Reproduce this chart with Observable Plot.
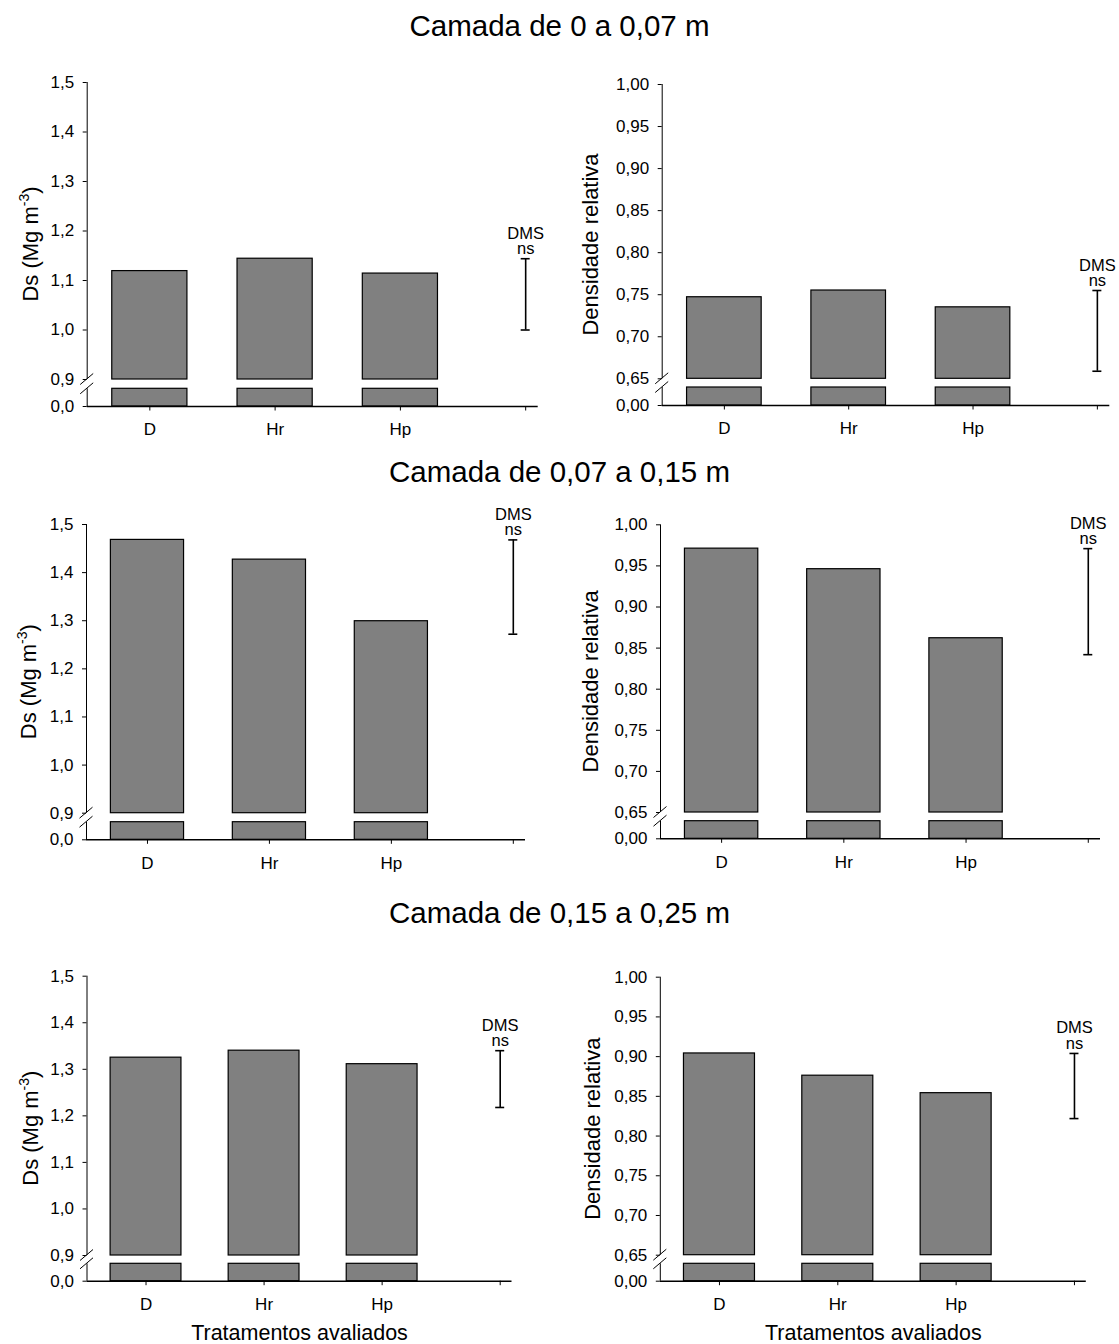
<!DOCTYPE html>
<html>
<head>
<meta charset="utf-8">
<script src="https://cdn.jsdelivr.net/npm/d3@7"></script>
<script src="https://cdn.jsdelivr.net/npm/@observablehq/plot@0.6"></script>
<style>
  html, body { margin: 0; padding: 0; background: #fff; }
  #fig { position: relative; width: 1119px; height: 1344px; overflow: hidden;
         font-family: "Liberation Sans", Arial, Helvetica, sans-serif; background: #fff; }
  #fig svg { position: absolute; }
  .title { position: absolute; left: 0; width: 1119px; text-align: center;
           font-size: 29.5px; line-height: 29.5px; color: #000; pointer-events: none; }
</style>
</head>
<body>
<div id="fig"></div>
<script>
// ---------------- data ----------------
const categories = ["D", "Hr", "Hp"];
const layerTitles = ["Camada de 0 a 0,07 m", "Camada de 0,07 a 0,15 m", "Camada de 0,15 a 0,25 m"];

// Ds (Mg m-3) per layer
const dsLayer1 = [1.119, 1.144, 1.114];
const dsLayer2 = [1.468, 1.427, 1.299];
const dsLayer3 = [1.325, 1.340, 1.311];
// Densidade relativa per layer
const drLayer1 = [0.747, 0.755, 0.735];
const drLayer2 = [0.971, 0.946, 0.862];
const drLayer3 = [0.904, 0.876, 0.854];
// DMS (least significant difference) per layer
const dmsDs = [0.144, 0.196, 0.122];
const dmsDr = [0.096, 0.129, 0.082];

const dsTicks = [0, 0.9, 1.0, 1.1, 1.2, 1.3, 1.4, 1.5];
const drTicks = [0, 0.65, 0.70, 0.75, 0.80, 0.85, 0.90, 0.95, 1.00];
const dsLabel = ["Ds (Mg m", "-3", ")"];
const drLabel = ["Densidade relativa"];
const dmsLabel = "DMS";
const nsLabel = "ns";
const xTitle = "Tratamentos avaliados";

// ---------------- layout / styles ----------------
const xDomain = [0.5, 4.1];
const kinds = {
  ds: {brk: 0.9, low: 0.1, top: 1.5, ticks: dsTicks, dec: 1, label: dsLabel,
       values: [dsLayer1, dsLayer2, dsLayer3], dms: dmsDs},
  dr: {brk: 0.65, low: 0.05, top: 1.0, ticks: drTicks, dec: 2, label: drLabel,
       values: [drLayer1, drLayer2, drLayer3], dms: dmsDr}
};
// y: page positions of [0, low, brk, top]
const panels = [
  {layer: 0, kind: "ds", left: 0,   top: 50,  width: 560, height: 400, ax: 86.7,  ae: 537.7,  y: [406, 388.3, 379, 82],      lab: 49},
  {layer: 0, kind: "dr", left: 560, top: 50,  width: 559, height: 400, ax: 661.7, ae: 1109.3, y: [405, 387, 378.3, 84],      lab: 64},
  {layer: 1, kind: "ds", left: 0,   top: 490, width: 560, height: 400, ax: 86,    ae: 525,    y: [839.3, 821.7, 812.7, 524],  lab: 50},
  {layer: 1, kind: "dr", left: 560, top: 490, width: 559, height: 400, ax: 660,   ae: 1100,   y: [838.3, 820.7, 812, 524.3],  lab: 62},
  {layer: 2, kind: "ds", left: 0,   top: 930, width: 560, height: 414, ax: 86.5,  ae: 511.5,  y: [1280.7, 1263.3, 1255, 975.7], lab: 49},
  {layer: 2, kind: "dr", left: 560, top: 930, width: 559, height: 414, ax: 659.8, ae: 1085.8, y: [1280.7, 1263.3, 1254.7, 976.7], lab: 60}
];
const titleTops = [11, 456.5, 897.5];

function breakMark(k) {
  return (index, scales) => {
    const g = d3.create("svg:g").attr("stroke", "#000").attr("stroke-width", 1).attr("fill", "none");
    const x = scales.x(xDomain[0]);
    for (const v of [k.low, k.brk]) {
      const y = scales.y(v);
      g.append("line").attr("x1", x - 6.5).attr("x2", x + 6.5).attr("y1", y + 5.5).attr("y2", y - 5.5);
    }
    return g.node();
  };
}

function yTitle(parts, off) {
  return (index, scales, values, dims) => {
    const cy = (dims.marginTop + dims.height - dims.marginBottom) / 2;
    const t = d3.create("svg:text")
      .attr("transform", `translate(${dims.marginLeft - off},${cy}) rotate(-90)`)
      .attr("text-anchor", "middle").attr("font-size", 22).attr("fill", "#000");
    t.append("tspan").text(parts[0]);
    if (parts.length > 1) {
      t.append("tspan").attr("font-size", 14).attr("dy", -9).text(parts[1]);
      t.append("tspan").attr("dy", 9).text(parts[2]);
    }
    return t.node();
  };
}

const fig = document.getElementById("fig");

for (const p of panels) {
  const k = kinds[p.kind];
  const vals = k.values[p.layer];
  const rows = vals.map((v, i) => ({cat: categories[i], i: i + 1, v}));
  const dms = k.dms[p.layer];
  const dmsTop = d3.max(vals);
  const dmsX = categories.length + 1;
  const pxPerUnit = (p.ae - p.ax) / (xDomain[1] - xDomain[0]);
  const cap = 4.5 / pxPerUnit;
  const half = 0.3;
  const fmt = d => d.toFixed(k.dec).replace(".", ",");

  const marks = [
    Plot.rect(rows, {x1: d => d.i - half, x2: d => d.i + half, y1: k.brk, y2: "v",
                     fill: "#808080", stroke: "#000", strokeWidth: 1.2}),
    Plot.rect(rows, {x1: d => d.i - half, x2: d => d.i + half, y1: 0, y2: k.low,
                     fill: "#808080", stroke: "#000", strokeWidth: 1.2}),
    Plot.ruleX([xDomain[0]], {y1: 0, y2: k.low, stroke: "#000", strokeWidth: 1}),
    Plot.ruleX([xDomain[0]], {y1: k.brk, y2: k.top, stroke: "#000", strokeWidth: 1}),
    Plot.ruleY([0], {x1: xDomain[0], x2: xDomain[1], stroke: "#000", strokeWidth: 1.5}),
    Plot.axisY({ticks: k.ticks, tickFormat: fmt, tickSize: 4, tickPadding: 9, fontSize: 17, label: null}),
    Plot.axisX({ticks: d3.range(1, dmsX + 1), tickFormat: i => categories[i - 1] ?? "",
                tickSize: 4.5, tickPadding: 12.4, fontSize: 17, label: null}),
    Plot.ruleX([dmsTop], {x: dmsX, y1: d => d - dms, y2: d => d, stroke: "#000", strokeWidth: 1.6}),
    Plot.ruleY([dmsTop - dms, dmsTop], {x1: dmsX - cap, x2: dmsX + cap, stroke: "#000", strokeWidth: 1.6}),
    Plot.text([nsLabel], {x: dmsX, y: dmsTop, text: d => d, lineAnchor: "bottom", dy: -4.5, fontSize: 16.5}),
    Plot.text([dmsLabel], {x: dmsX, y: dmsTop, text: d => d, lineAnchor: "bottom", dy: -20, fontSize: 16.5}),
    breakMark(k),
    yTitle(k.label, p.lab)
  ];
  if (p.layer === 2) {
    marks.push(Plot.text([xTitle], {frameAnchor: "bottom", text: d => d, lineAnchor: "bottom",
                                    dy: 1339 - p.y[0], fontSize: 21.5}));
  }

  const svg = Plot.plot({
    width: p.width,
    height: p.height,
    marginLeft: p.ax - p.left,
    marginRight: p.left + p.width - p.ae,
    marginTop: p.y[3] - p.top,
    marginBottom: p.top + p.height - p.y[0],
    style: {fontFamily: '"Liberation Sans", Arial, Helvetica, sans-serif', fontSize: "17px",
            background: "transparent", overflow: "visible", color: "#000"},
    x: {type: "linear", domain: xDomain},
    y: {type: "linear", domain: [0, k.low, k.brk, k.top], range: p.y.map(v => v - p.top)},
    marks
  });
  svg.style.left = p.left + "px";
  svg.style.top = p.top + "px";
  svg.style.maxWidth = "none";
  fig.appendChild(svg);
}

layerTitles.forEach((t, i) => {
  const d = document.createElement("div");
  d.className = "title";
  d.style.top = titleTops[i] + "px";
  d.textContent = t;
  fig.appendChild(d);
});
</script>
</body>
</html>
